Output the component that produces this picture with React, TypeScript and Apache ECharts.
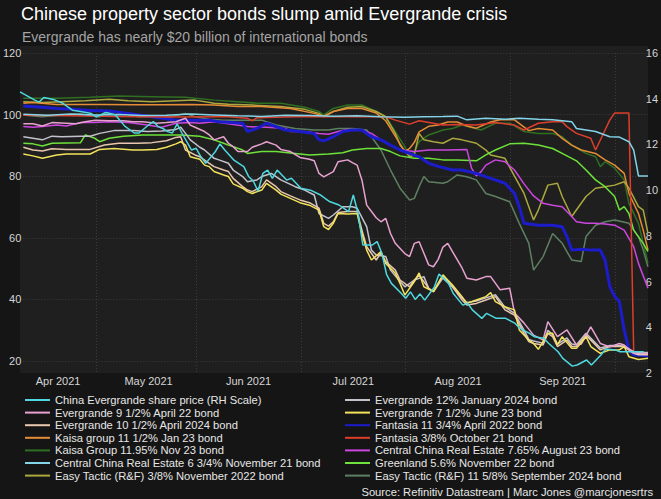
import React, { useEffect, useRef } from "react";
import * as echarts from "echarts";

// ---- categories: trading days (weekdays) ----
const tradingDaysByMonth: [string, number[]][] = [
  ["2021-04", [9, 12, 13, 14, 15, 16, 19, 20, 21, 22, 23, 26, 27, 28, 29, 30]],
  ["2021-05", [3, 4, 5, 6, 7, 10, 11, 12, 13, 14, 17, 18, 19, 20, 21, 24, 25, 26, 27, 28, 31]],
  ["2021-06", [1, 2, 3, 4, 7, 8, 9, 10, 11, 14, 15, 16, 17, 18, 21, 22, 23, 24, 25, 28, 29, 30]],
  ["2021-07", [1, 2, 5, 6, 7, 8, 9, 12, 13, 14, 15, 16, 19, 20, 21, 22, 23, 26, 27, 28, 29, 30]],
  ["2021-08", [2, 3, 4, 5, 6, 9, 10, 11, 12, 13, 16, 17, 18, 19, 20, 23, 24, 25, 26, 27, 30, 31]],
  ["2021-09", [1, 2, 3, 6, 7, 8, 9, 10, 13, 14, 15, 16, 17, 20, 21, 22, 23, 24, 27, 28, 29, 30]],
  ["2021-10", [1, 4, 5, 6, 7, 8, 11]],
];
const monthLabelDays = ["2021-04-21", "2021-05-18", "2021-06-16", "2021-07-16", "2021-08-17", "2021-09-16"];
const monthLabelTexts = ["Apr 2021", "May 2021", "Jun 2021", "Jul 2021", "Aug 2021", "Sep 2021"];
const monthStartDays = ["2021-05-03", "2021-06-01", "2021-07-01", "2021-08-02", "2021-09-01", "2021-10-01"];

const leftTicks = { min: 20, max: 120, step: 20 };
const rightTicks = { min: 2, max: 16, step: 2 };

// ---- series values: [trading day number, value] ----
const evergrandeShare = [[0,14.3],[3,13.95],[4,13.85],[5,14.05],[7,13.97],[9,13.8],[11,13.5],[13,13.43],[15,13.35],[16,13.2],[18,13.4],[20,13.3],[22,12.8],[24,12.5],[25,12.5],[27,12.85],[28,13.0],[29,12.78],[30,12.7],[31,12.56],[32,12.5],[33,12.9],[34,12.5],[36,11.76],[37,11.83],[38,11.46],[39,11.17],[41,11.68],[42,12.02],[43,11.76],[45,11.3],[47,11.03],[48,10.6],[49,10.4],[50,9.95],[51,10.73],[52,10.88],[53,10.52],[54,10.88],[56,10.44],[57,10.52],[59,10.08],[61,10.0],[63,9.8],[65,9.5],[67,9.35],[69,9.06],[70,9.79],[71,8.98],[72,7.6],[74,7.6],[75,7.75],[76,7.24],[77,6.3],[78,5.92],[80,5.5],[81,5.27],[82,5.55],[83,5.22],[84,5.46],[85,5.19],[87,5.75],[88,6.33],[90,5.92],[91,5.48],[93,4.97],[94,5.05],[95,4.76],[97,4.39],[98,4.61],[100,4.39],[102,4.39],[104,4.17],[105,3.95],[107,3.73],[108,3.59],[110,3.52],[111,3.3],[113,2.93],[114,2.64],[116,2.3],[117,2.35],[119,2.57],[120,2.35],[121,2.57],[122,2.79],[123,3.05],[125,3.01],[126,2.93],[131,2.93]];
const eg95Apr22 = [[0,97],[2,97],[4,96.3],[6,97.4],[9,97.2],[11,97],[13,97.7],[15,98.2],[18,98],[21,98],[23,97.7],[25,97.7],[28,97.2],[30,97.4],[32,97.7],[34,98.8],[35,96.6],[36,95.9],[38,94.5],[39,93.4],[40,91.8],[42,92.8],[43,90.7],[44,89.6],[45,88],[47,88],[48,89.4],[50,90.5],[51,91.2],[53,90.1],[54,88.7],[56,88],[58,86.1],[60,85.5],[61,85],[62,80.9],[63,79.8],[65,81.5],[66,84.7],[68,85.3],[69,84.4],[70,83.6],[71,78.8],[72,70.6],[74,66.5],[75,65.2],[76,66.3],[77,61.4],[78,58.2],[80,54.9],[81,53.9],[82,58.2],[83,58.7],[84,55],[85,51.2],[86,50.6],[87,53],[88,57],[89,58.2],[90,55.5],[92,50.2],[93,46.9],[95,46.3],[97,47.4],[98,47.4],[100,43.1],[102,43.6],[103,35.6],[105,32.3],[107,28.4],[109,26.8],[110,32.8],[112,27.9],[114,30.1],[116,25.2],[117,25.5],[119,31.1],[121,25.7],[123,24.6],[125,25.7],[126,25.2],[128,22.5],[129,22.5],[131,22.5]];
const eg105Apr24 = [[0,89.4],[2,88.5],[4,88.2],[6,88.9],[9,88.7],[12,88.7],[14,88.7],[17,90.1],[20,90.7],[24,90.7],[27,90.9],[30,91.5],[32,92.6],[33,92.8],[34,88.5],[36,86.9],[37,86.3],[39,84.2],[40,83.1],[42,82],[43,81.5],[44,79.3],[46,76.6],[47,75.5],[48,75],[50,76.6],[51,78.8],[53,76.6],[54,75],[56,73.6],[58,72.3],[60,71.4],[62,69.6],[63,64.7],[64,63.8],[65,65.2],[66,68.2],[68,68.5],[70,68.5],[71,62.5],[72,57.1],[74,52.8],[75,55.2],[76,52.3],[78,49.5],[79,46.3],[81,44.1],[82,46.3],[83,47.9],[85,43.6],[86,42.5],[88,47.9],[90,44.1],[92,39.8],[93,38.2],[95,38.7],[97,39.8],[99,40.9],[100,38.7],[101,36.6],[103,34.9],[105,29],[106,26.3],[107,25.7],[109,25.2],[110,29],[111,27.9],[112,24.7],[114,26.8],[115,24.7],[116,24.7],[118,28.4],[120,25.2],[121,23.6],[123,24.7],[125,24.7],[126,24.7],[128,22.5],[129,22],[131,22]];
const kaisa115Jan23 = [[0,103.7],[2,103.9],[7,103.3],[11,103.3],[17,103.3],[23,103.2],[29,103.2],[35,103.3],[40,103.1],[45,102.6],[50,102.6],[56,102],[61,100.4],[63,99.5],[65,101],[68,102],[71,102],[74,100.5],[76,98],[78,93],[80,88],[81,89],[82,91],[83,94.4],[85,96.2],[87,96.6],[89,97.6],[91,97.6],[93,96.3],[95,95.6],[98,97.6],[100,98.3],[103,98.3],[106,94.8],[108,95.5],[111,95],[113,92.3],[115,90.1],[117,88.5],[120,87.4],[122,85.3],[124,83.6],[126,80.9],[127,74.4],[129,67.9],[130,62.5],[131,56]];
const kaisa1195Nov23 = [[0,105.3],[7,105.3],[14,105.6],[20,106],[27,105.8],[34,105.6],[40,104.7],[45,104.2],[49,103.7],[54,103.7],[59,102.4],[62,101],[63,99.9],[65,102],[68,103.1],[71,103.1],[74,101],[76,99.3],[78,94.5],[80,89.6],[81,86.3],[82,88],[83,91.2],[85,93.4],[88,95],[90,95.5],[92,96.6],[96,95],[99,97.2],[102,97.2],[105,94.5],[108,93.9],[111,93.9],[113,92.8],[115,90.1],[118,87.4],[120,86.3],[121,83.1],[122,84.7],[124,82.6],[126,78.8],[127,71.2],[129,64.7],[130,58.2],[131,51.7]];
const ccre675Nov21 = [[0,100.1],[5,99.8],[10,100.2],[15,99.9],[20,100],[25,99.7],[30,99.8],[35,100.2],[40,99.9],[45,99.6],[50,99.4],[55,99.8],[60,99.7],[65,99.5],[70,99.6],[75,99.3],[80,99.1],[84,99.3],[88,99.4],[91,99.5],[93,98.3],[97,98.8],[101,98.5],[104,98.8],[108,98.5],[111,98.3],[115,97.7],[116,95.5],[118,95],[120,94.5],[123,92.8],[125,92.7],[127,91.2],[128,88.5],[129,80.1],[131,80.1]];
const easyTactic38Nov22 = [[0,104.2],[4,103.9],[8,104.2],[13,104.5],[18,105],[22,104.5],[27,104.2],[32,104.5],[36,104.7],[40,103.7],[43,103.4],[48,103.1],[54,102.6],[59,101.7],[62,100.4],[63,99.3],[65,101],[68,102.4],[71,102.6],[74,101],[76,99.3],[78,93.9],[79,90.1],[81,86.3],[82,86.9],[83,93.9],[84,91.8],[86,91.2],[88,90.7],[90,92.3],[92,91.8],[95,90.7],[97,88.5],[98,86.9],[101,85.8],[103,80],[105,74.4],[107,65.8],[108,69],[110,77.1],[112,77.7],[113,73.4],[115,66.9],[118,73.4],[120,76.1],[122,76.6],[124,77.1],[126,78.2],[127,76.1],[129,70.1],[130,69],[131,61.4]];
const eg12Jan24 = [[0,92.8],[2,92.3],[4,91.8],[6,93],[8,92.8],[12,93],[14,93],[16,93.9],[19,94.8],[23,94.8],[26,94.5],[29,94.7],[32,95.2],[33,95.9],[34,93.9],[35,91.8],[37,89.4],[38,88.5],[40,85.8],[41,85.3],[43,84.2],[44,82],[46,79.9],[47,78.2],[49,78.8],[50,79.9],[52,80.9],[54,78.8],[57,76.6],[59,75.5],[61,73.9],[62,67.9],[64,66.3],[65,67.4],[67,70.1],[69,70.1],[70,69.6],[72,63.6],[73,56],[74,54.4],[76,53.9],[77,49.5],[79,45.8],[80,44.1],[82,46.3],[84,47.4],[85,43.6],[86,42.5],[88,47],[90,44],[92,40.5],[93,39],[95,39.5],[97,40.5],[99,41.5],[100,39.5],[101,37.5],[103,35.5],[105,30],[106,27],[107,26.5],[109,25.8],[110,30],[111,28.5],[112,25.5],[114,27.5],[115,25.5],[116,25.3],[118,29],[120,25.8],[121,24.2],[123,25],[125,25],[126,24.8],[128,23],[129,22.8],[131,22.8]];
const eg75Jun23 = [[0,87.2],[2,86.6],[4,85.8],[7,86.9],[9,87.2],[14,87.2],[16,88.7],[19,89],[23,88.5],[25,88.5],[28,88.7],[30,89.4],[32,90.5],[33,91.2],[34,90.1],[35,86.3],[37,85.5],[38,83.6],[39,83.1],[40,81.5],[42,80.4],[43,79.9],[44,77.5],[46,76.1],[47,75],[48,74.4],[50,75.5],[51,77.7],[53,75.5],[54,74.2],[56,72.8],[58,71.4],[60,70.6],[62,69],[63,63.6],[64,62.7],[65,64.7],[66,67.9],[68,67.7],[70,67.9],[71,61.4],[72,56],[73,52.8],[75,55.5],[76,51.7],[78,48.5],[79,45.2],[80,41.4],[82,45.8],[83,48.6],[84,44.1],[86,42.5],[88,47.9],[90,44.7],[92,40.9],[93,38.7],[95,39.8],[97,40.9],[98,42.2],[99,39.3],[101,37.6],[103,36.6],[104,30.1],[106,26.8],[107,25.7],[108,23.8],[110,29],[111,29],[112,25.2],[113,27.9],[115,24.1],[116,24.1],[118,27.9],[119,24.7],[121,22.5],[123,23.6],[125,23.6],[126,24.7],[127,21.4],[129,20.5],[131,20.9]];
const fantasia1175Apr22 = [[0,102.8],[4,102.4],[7,102],[10,101.7],[14,101.3],[18,101.2],[22,100.4],[27,99.3],[32,98.2],[36,98.2],[39,98.2],[41,97.7],[43,97.5],[46,97.2],[47,94.5],[49,95.5],[51,97.2],[55,95],[58,94.5],[61,93.9],[62,91.8],[63,91.5],[65,92.8],[67,94.5],[69,95],[71,95],[73,92.8],[75,91.8],[77,90.1],[79,88.5],[81,87.4],[83,86.3],[85,84.2],[87,83.2],[90,82],[92,82],[95,80.9],[98,79.3],[101,77.7],[103,74.4],[104,70.1],[105,64.7],[108,64.1],[111,64.1],[113,63.6],[114,60.4],[115,56],[117,56.3],[119,56],[121,56],[122,52.8],[123,44.1],[124,41],[125,39.3],[126,30.1],[127,23.6],[128,22],[131,21.6]];
const fantasia38Oct21 = [[0,99.8],[10,99.6],[20,99.4],[30,99.2],[40,99.3],[43,99.3],[47,98.8],[48,98],[49,99],[57,99.3],[63,99.3],[70,99.3],[76,99.3],[78,98.2],[81,96.9],[83,98],[88,96.6],[91,96.8],[95,96.6],[99,97.4],[103,96.6],[105,95],[108,97.2],[111,97.7],[113,97.7],[114,96.1],[116,93.9],[119,92.3],[120,88.5],[122,95],[123,98.3],[124,100.5],[127,100.5],[128,23],[129,22.5],[131,22.5]];
const ccre765Aug23 = [[0,96.1],[2,95.9],[4,96.1],[7,96.6],[9,96.3],[12,97.4],[15,97.4],[18,97.7],[22,97.4],[26,96.6],[29,95.9],[32,97.2],[35,97.4],[37,97.2],[40,97.7],[43,97],[47,96.1],[51,95.9],[55,95.5],[56,94.5],[59,94.5],[62,93.9],[64,93.6],[66,94.5],[68,95.2],[71,95],[73,93.9],[75,91.8],[77,90.1],[79,88.5],[82,88],[85,88.5],[89,88.5],[93,88.7],[94,82.6],[95,80.1],[96,81.5],[97,83.6],[99,85.3],[101,84.7],[103,82],[105,77.5],[107,73.6],[109,71.2],[111,70.6],[113,70.1],[115,66.9],[116,65.2],[118,64.7],[120,64.7],[122,64.5],[124,64.1],[126,62.5],[128,57.1],[129,51.7],[131,43.6]];
const greenland56Nov22 = [[0,90.7],[2,90.5],[4,89.8],[6,90.7],[12,90.9],[13,93.4],[15,92.3],[16,91.2],[18,92.3],[21,93],[25,93.4],[29,93.4],[33,93.4],[37,93],[40,91.8],[42,90.7],[43,90.1],[44,89.6],[46,88.5],[47,87.4],[50,88],[53,88],[57,87.4],[60,86.9],[64,87.2],[67,87.6],[69,88.5],[72,89],[75,89],[77,88],[79,86.6],[82,85.8],[85,85.8],[88,85.3],[91,85.3],[95,85],[97,86.9],[99,88.5],[102,90.5],[105,90.7],[108,90.1],[111,89],[113,87.4],[116,85],[118,82],[120,78.8],[122,76.6],[124,73.4],[125,69],[126,70.1],[127,67.9],[128,62.5],[130,58.2],[131,55.5]];
const easyTactic1158Sep24 = [[0,99.9],[4,99.3],[8,99.9],[12,100.2],[16,99.3],[18,101],[21,100.4],[24,99.3],[28,99.5],[31,99.3],[34,100.4],[36,99.3],[39,98.5],[42,98.2],[46,98.2],[50,98.2],[53,96.6],[57,95.5],[61,95],[64,95],[66,95.5],[69,95.5],[72,95],[73,92.8],[75,88.5],[77,82],[79,76.1],[81,72.3],[82,72.8],[83,76.6],[84,79.9],[85,78.2],[88,77.7],[89,78.2],[91,80.4],[93,79.8],[95,78.8],[97,74.4],[99,73.4],[102,71.7],[104,64.7],[106,58.2],[107,49.5],[109,53.9],[111,61.4],[113,58.2],[115,52.8],[117,52.3],[118,60.4],[120,64.1],[122,65.2],[124,65.8],[127,64.7],[129,60.4],[130,56],[131,50.6]];

const seriesNames = [
  "China Evergrande share price (RH Scale)",
  "Evergrande 9 1/2% April 22 bond",
  "Evergrande 10 1/2% April 2024 bond",
  "Kaisa group 11 1/2% Jan 23 bond",
  "Kaisa Group 11.95% Nov 23 bond",
  "Central China Real Estate 6 3/4% November 21 bond",
  "Easy Tactic (R&F) 3/8% November 2022 bond",
  "Evergrande 12% January 2024 bond",
  "Evergrande 7 1/2% June 23 bond",
  "Fantasia 11 3/4% April 2022 bond",
  "Fantasia 3/8% October 21 bond",
  "Central China Real Estate 7.65% August 23 bond",
  "Greenland 5.6% November 22 bond",
  "Easy Tactic (R&F) 11 5/8% September 2024 bond",
];
const seriesValues = [
  evergrandeShare, eg95Apr22, eg105Apr24, kaisa115Jan23, kaisa1195Nov23, ccre675Nov21, easyTactic38Nov22,
  eg12Jan24, eg75Jun23, fantasia1175Apr22, fantasia38Oct21, ccre765Aug23, greenland56Nov22, easyTactic1158Sep24,
];
const onRightScale = [true, false, false, false, false, false, false, false, false, false, false, false, false, false];

// ---- styles ----
const seriesColors = [
  "#4fd8df", "#e8a2d0", "#e9c7ae", "#e48c36", "#2f6f22", "#84d4ea", "#aaa83e",
  "#c4c2cc", "#f3e35a", "#1c1ccc", "#dc3f2c", "#cc46e0", "#6ee23a", "#5e8062",
];
const seriesWidths = [1.5, 1.5, 1.5, 1.5, 1.5, 1.5, 1.5, 1.5, 1.5, 3, 1.5, 1.5, 1.5, 1.5];
const drawOrder = [13, 4, 6, 3, 12, 11, 9, 10, 5, 7, 2, 1, 8, 0];

const FONT = '"Liberation Sans", Arial, Helvetica, sans-serif';
const NARROW = '"Liberation Sans Narrow", "Arial Narrow", "Liberation Sans", sans-serif';

export default function App() {
  const ref = useRef<HTMLDivElement>(null);
  useEffect(() => {
    document.body.style.margin = "0";
    document.body.style.background = "#151515";
    const chart = echarts.init(ref.current!, null, { renderer: "svg", width: 661, height: 499 });

    const categories: string[] = [];
    tradingDaysByMonth.forEach(([m, days]) =>
      days.forEach((d) => categories.push(`${m}-${String(d).padStart(2, "0")}`))
    );
    const labelOf: Record<string, string> = {};
    monthLabelDays.forEach((d, k) => (labelOf[d] = monthLabelTexts[k]));
    const startSet = new Set(monthStartDays);

    const gridLeft = 20, gridRight = 13, gridTop = 53;
    const series: any[] = drawOrder.map((k) => ({
      name: seriesNames[k],
      type: "line",
      data: seriesValues[k].map(([d, v]) => [categories[d], v]),
      xAxisIndex: onRightScale[k] ? 1 : 0,
      yAxisIndex: onRightScale[k] ? 1 : 0,
      color: seriesColors[k],
      lineStyle: { width: seriesWidths[k], color: seriesColors[k] },
      showSymbol: false,
      symbol: "none",
      clip: false,
      emphasis: { disabled: true },
      z: 2,
    }));

    const legendBase = {
      orient: "vertical",
      top: 394,
      padding: 0,
      icon: "rect",
      itemWidth: 25,
      itemHeight: 2,
      itemGap: 0.6,
      selectedMode: false,
      textStyle: { color: "#e6e6e6", fontSize: 11.2, fontFamily: FONT, lineHeight: 12 },
    };

    const option: any = {
      animation: false,
      backgroundColor: "#151515",
      graphic: [
        { type: "rect", z: -10, silent: true, shape: { x: 20, y: 46, width: 628, height: 327 }, style: { fill: "#1f1f1f" } },
        { type: "text", x: 21, y: 13.7, style: { text: "Chinese property sector bonds slump amid Evergrande crisis", fill: "#ffffff", font: `18px ${FONT}`, textVerticalAlign: "middle" } },
        { type: "text", x: 22, y: 37, style: { text: "Evergrande has nearly $20 billion of international bonds", fill: "#a4a4a4", font: `14px ${FONT}`, textVerticalAlign: "middle" } },
        { type: "text", x: 653, y: 492, style: { text: "Source: Refinitiv Datastream | Marc Jones @marcjonesrtrs", fill: "#e6e6e6", font: `11.2px ${FONT}`, textAlign: "right", textVerticalAlign: "middle" } },
      ],
      legend: [
        { ...legendBase, left: 25, data: seriesNames.slice(0, 7) },
        { ...legendBase, left: 345, data: seriesNames.slice(7) },
      ],
      grid: [
        { left: gridLeft, right: gridRight, top: gridTop, height: 308 },
        { left: gridLeft, right: gridRight, top: gridTop, height: 320 },
      ],
      xAxis: [
        { type: "category", gridIndex: 0, data: categories, boundaryGap: false, show: false },
        {
          type: "category", gridIndex: 1, data: categories, boundaryGap: false,
          axisLine: { show: false }, axisTick: { show: false },
          axisLabel: {
            interval: (i: number) => labelOf[categories[i]] !== undefined,
            formatter: (v: string) => labelOf[v] || "",
            color: "#d6d6d6", fontSize: 11, fontFamily: NARROW, margin: 2,
          },
          splitLine: {
            show: true,
            interval: (i: number) => startSet.has(categories[i]),
            lineStyle: { color: "#3c3c3c", type: [1, 2], width: 1 },
          },
        },
      ],
      yAxis: [
        {
          type: "value", gridIndex: 0, position: "left",
          min: leftTicks.min, max: leftTicks.max, interval: leftTicks.step,
          axisLine: { show: false }, axisTick: { show: false },
          axisLabel: { color: "#d6d6d6", fontSize: 11, fontFamily: NARROW, margin: 2 },
          splitLine: { show: true, lineStyle: { color: "#3c3c3c", type: [1, 2], width: 1 } },
        },
        {
          type: "value", gridIndex: 1, position: "right",
          min: rightTicks.min, max: rightTicks.max, interval: rightTicks.step,
          axisLine: { show: false }, axisTick: { show: false },
          axisLabel: { color: "#d6d6d6", fontSize: 11, fontFamily: NARROW, margin: 2 },
          splitLine: { show: false },
        },
      ],
      series,
    };
    chart.setOption(option);
    return () => chart.dispose();
  }, []);
  return (
    <div style={{ position: "fixed", left: 0, top: 0, width: 661, height: 499, background: "#151515" }}>
      <div ref={ref} style={{ width: 661, height: 499 }} />
    </div>
  );
}
